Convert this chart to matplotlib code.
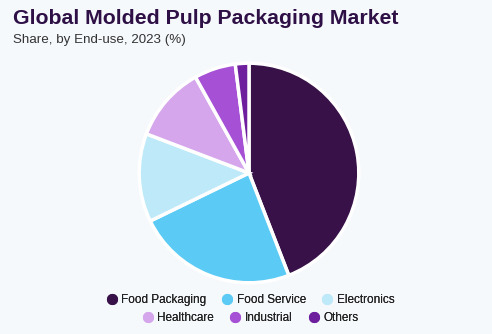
import matplotlib.pyplot as plt
from matplotlib.lines import Line2D

categories = ['Food Packaging', 'Food Service', 'Electronics',
              'Healthcare', 'Industrial', 'Others']
shares = [44.1, 23.7, 13.0, 11.1, 6.1, 2.0]
colors = ['#371147', '#5BCBF5', '#BDE9F9', '#D5A6EC', '#A650D6', '#6E1F9E']

bg = '#F5F9FC'
title_color = '#2E1046'

fig = plt.figure(figsize=(4.92, 3.34), dpi=100, facecolor=bg)

# pie axes: center ~ (249, 173), radius ~110 px
ax = fig.add_axes([(249 - 112) / 492, 1 - (173 + 112) / 334, 224 / 492, 224 / 334])
ax.set_facecolor(bg)
ax.pie(shares, colors=colors, startangle=90, counterclock=False,
       wedgeprops=dict(edgecolor='white', linewidth=2.5))
ax.set_aspect('equal')
ax.set_xlim(-1.02, 1.02)
ax.set_ylim(-1.02, 1.02)
ax.axis('off')

fig.text(13 / 492, 1 - 18 / 334, 'Global Molded Pulp Packaging Market',
         fontsize=15.3, fontweight='heavy', color=title_color,
         family='Liberation Sans', va='center', ha='left')
fig.text(13 / 492, 1 - 40 / 334, 'Share, by End-use, 2023 (%)',
         fontsize=9.6, color='#333333', family='Liberation Sans',
         va='center', ha='left')

def handles(idx):
    return [Line2D([], [], marker='o', linestyle='', markersize=7,
                   markerfacecolor=colors[i], markeredgecolor=colors[i])
            for i in idx]

for idx, y in [([0, 1, 2], 300), ([3, 4, 5], 318)]:
    leg = fig.legend(handles(idx), [categories[i] for i in idx],
                     loc='center', bbox_to_anchor=(250 / 492, 1 - y / 334),
                     ncol=3, frameon=False, handletextpad=0.3,
                     columnspacing=1.3, handlelength=1.0,
                     prop=dict(family='Liberation Sans', size=8.5))
    for t in leg.get_texts():
        t.set_color('#222222')
    fig.add_artist(leg)

fig.savefig('out.png', dpi=100, facecolor=bg)
